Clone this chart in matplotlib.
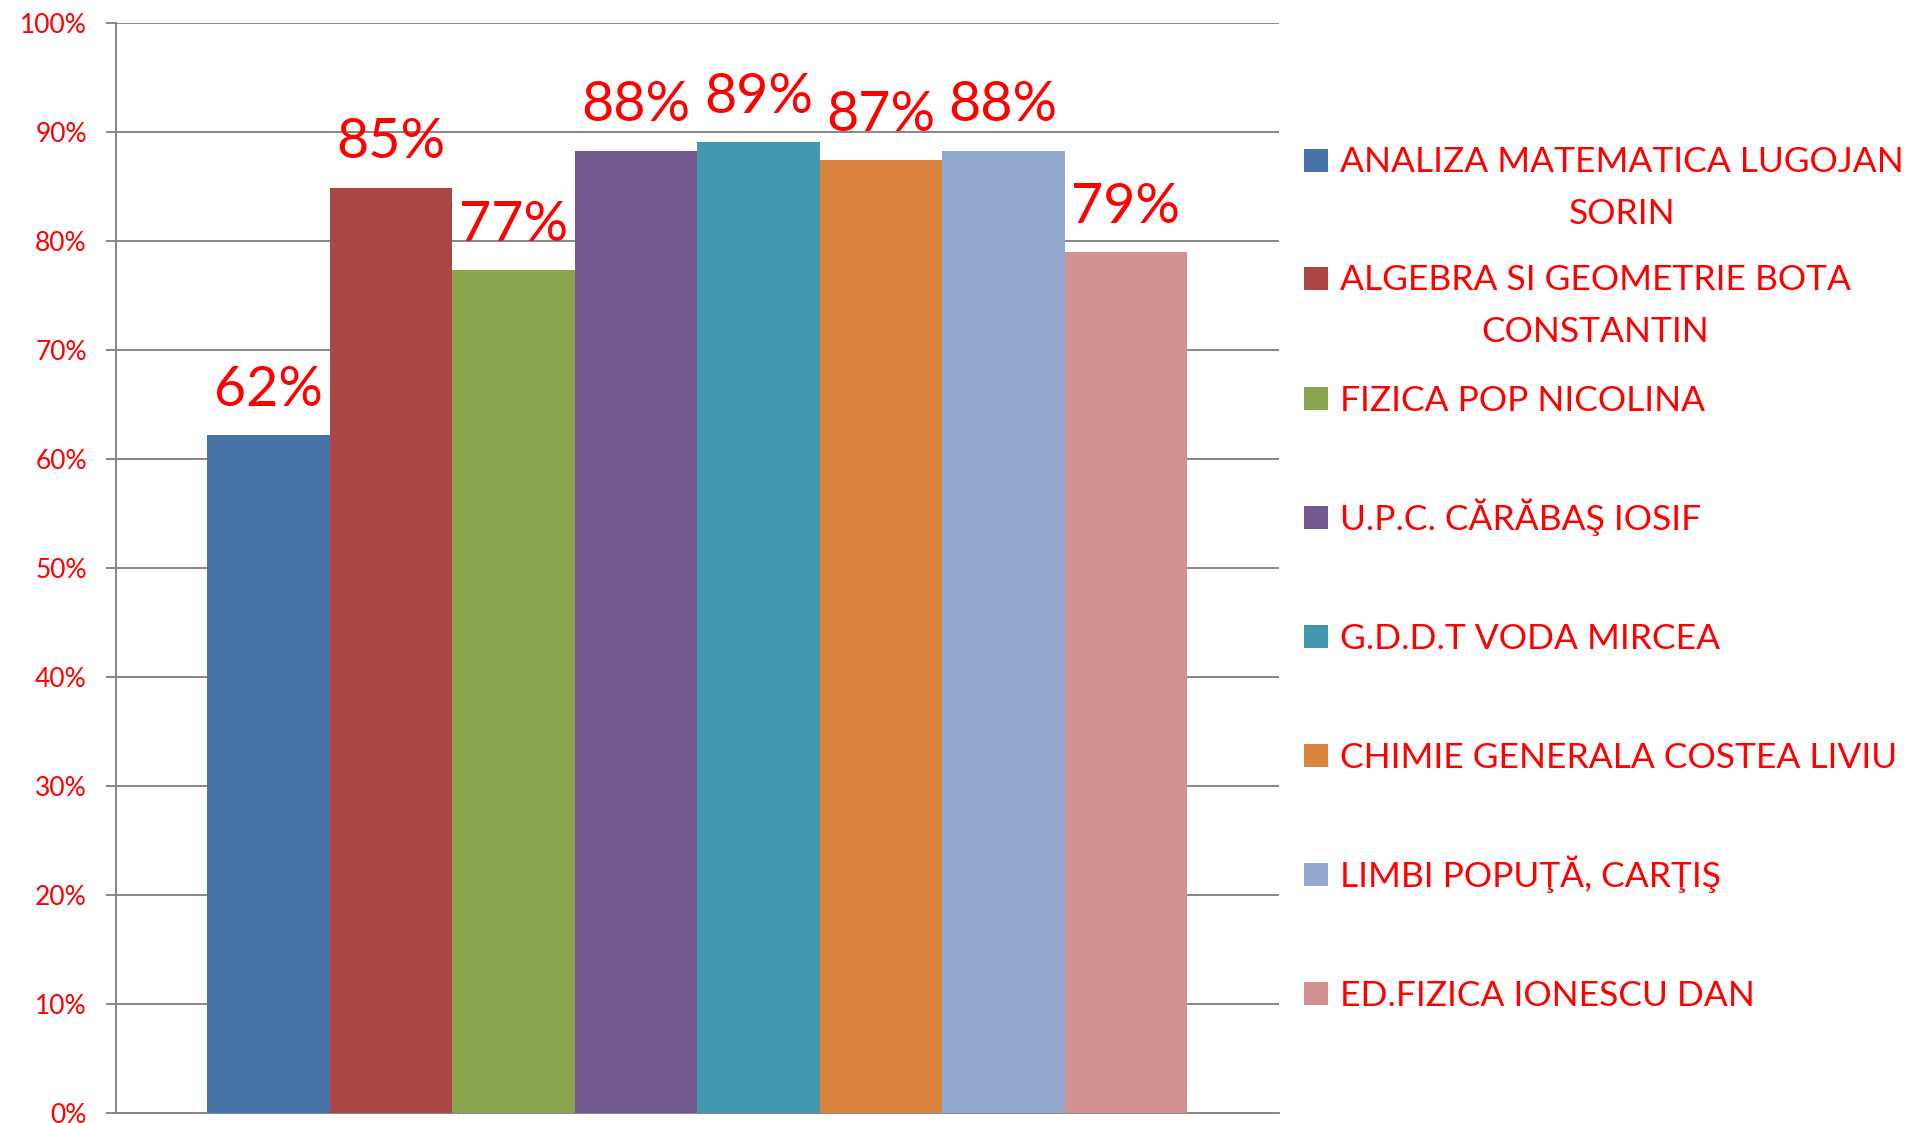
import matplotlib
matplotlib.use("Agg")
import matplotlib.pyplot as plt
from matplotlib.ticker import PercentFormatter
from matplotlib.patches import Rectangle

# Data
subjects = [
    "ANALIZA MATEMATICA LUGOJAN\nSORIN",
    "ALGEBRA SI GEOMETRIE BOTA\nCONSTANTIN",
    "FIZICA POP NICOLINA",
    "U.P.C. CĂRĂBAŞ IOSIF",
    "G.D.D.T VODA MIRCEA",
    "CHIMIE GENERALA COSTEA LIVIU",
    "LIMBI POPUŢĂ, CARŢIŞ",
    "ED.FIZICA IONESCU DAN",
]
values = [0.622, 0.849, 0.773, 0.883, 0.891, 0.874, 0.883, 0.790]
colors = ["#4672A7", "#AA4744", "#8AA54E", "#71598F",
          "#4398AF", "#DB843E", "#94A9CF", "#D29292"]

plt.rcParams['font.family'] = ['Lato', 'DejaVu Sans']
red = "#FF0000"
grey = "#868686"

W, H = 1915, 1123
fig = plt.figure(figsize=(W / 100, H / 100), dpi=100)
ax = fig.add_axes([116 / W, 1 - 1113 / H, (1279 - 116) / W, (1113 - 23) / H])

x = list(range(len(values)))
ax.bar(x, values, width=1.0, color=colors, linewidth=0, zorder=3)

for xi, v in zip(x, values):
    ax.annotate(f"{v * 100:.0f}%", (xi, v), xytext=(0, 21),
                textcoords='offset points', ha='center', va='baseline',
                fontsize=40, color=red, zorder=4)

ax.set_xlim(-1.243, 8.251)
ax.set_ylim(0, 1)
ax.set_yticks([i / 10 for i in range(11)])
ax.yaxis.set_major_formatter(PercentFormatter(1.0, decimals=0))
ax.set_xticks([])
ax.tick_params(axis='y', length=7, width=1.4, color=grey, labelcolor=red,
               labelsize=19, pad=14)
ax.grid(axis='y', color=grey, linewidth=1.4, zorder=0)
for side in ['top', 'right']:
    ax.spines[side].set_visible(False)
for side in ['left', 'bottom']:
    ax.spines[side].set_color(grey)
    ax.spines[side].set_linewidth(1.4)

# legend drawn by hand so markers line up with the first text line
leg_y = [160, 278, 398, 517, 636, 755, 874, 993]
line_step = 51
for label, c, yc in zip(subjects, colors, leg_y):
    fig.patches.append(Rectangle((1304 / W, 1 - (yc + 12) / H), 24 / W, 23 / H,
                                 transform=fig.transFigure, color=c,
                                 linewidth=0))
    n_extra = label.count("\n")
    fig.text(1340 / W, 1 - (yc + 13 + n_extra * line_step) / H, label,
             ha='left', va='baseline', multialignment='center',
             fontsize=25.5, color=red, linespacing=1.76)

fig.savefig("out.png", dpi=100)
